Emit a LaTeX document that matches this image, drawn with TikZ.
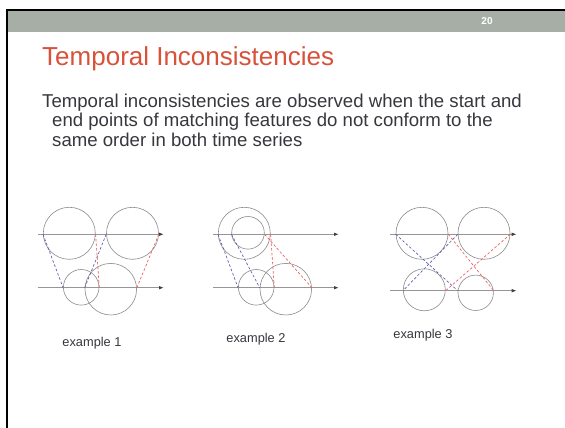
\documentclass[tikz,border=0pt]{standalone}
\usepackage{fontspec}
\setmainfont{Liberation Sans}
\usepackage{xcolor}
\usetikzlibrary{arrows.meta,positioning}

\definecolor{bandgrey}{RGB}{166,174,166}
\definecolor{titlered}{RGB}{216,82,58}
\definecolor{bodytext}{RGB}{55,55,62}
\definecolor{circgrey}{RGB}{140,140,140}
\definecolor{axisgrey}{RGB}{150,150,150}
\definecolor{linkblue}{RGB}{90,90,170}
\definecolor{linkred}{RGB}{235,90,90}

\begin{document}
\begin{tikzpicture}[
        x=1pt, y=-1pt,
        >=latex,
        % circle round a matched feature
        feat/.style={circle, draw=circgrey, line width=0.6pt, minimum size=#1, inner sep=0pt},
        % time series axis
        tline/.style={draw=axisgrey, line width=1.3pt, -{Latex[length=5pt, width=3.6pt, color=black!75]}},
        % matching start / end points
        blink/.style={draw=linkblue, line width=0.65pt, dash pattern=on 2.6pt off 2pt},
        rlink/.style={draw=linkred, line width=0.65pt, dash pattern=on 2.6pt off 2pt},
        lbl/.style={font=\fontsize{12.8}{15}\selectfont, text=bodytext, inner sep=0pt},
        bodyline/.style={anchor=base west, font=\fontsize{18.6}{22}\selectfont, text=bodytext, inner sep=0pt}
    ]

        % ====================
        % slide frame
        % ====================
        \useasboundingbox (0,0) rectangle (565,428);
        \fill[white] (0,0) rectangle (565,428);
        \fill[bandgrey] (8,11) rectangle (565,32);
        \fill[black] (6,9) rectangle (565,11);
        \fill[black] (6,9) rectangle (8,428);

        \node[font=\fontsize{10}{12}\selectfont\bfseries, text=white, inner sep=0pt] (pagenum) at (487,21.5) {20};

        \node[anchor=base west, font=\fontsize{26}{30}\selectfont, text=titlered, inner sep=0pt] (title) at (42,66) {Temporal Inconsistencies};

        \node[bodyline] (body1) at (42,107) {Temporal inconsistencies are observed when the start and};
        \node[bodyline] (body2) at (52,126.5) {end points of matching features do not conform to the};
        \node[bodyline] (body3) at (52,146) {same order in both time series};

        % ====================
        % example 1
        % ====================
        \coordinate (top1s) at (38,234.3);
        \coordinate (top1e) at (164,234.3);
        \coordinate (bot1s) at (38,287.7);
        \coordinate (bot1e) at (164,287.7);

        \node[feat=52pt] (a11) at (69.3,233.3) {};
        \node[feat=52pt] (a12) at (132.5,233.3) {};
        \node[feat=35.6pt] (b11) at (81.2,287.3) {};
        \node[feat=51.6pt] (b12) at (110.8,289.2) {};

        \draw[tline] (top1s) -- (top1e);
        \draw[tline] (bot1s) -- (bot1e);

        \draw[blink] (a11.west |- top1s) -- (b11.west |- bot1s);
        \draw[blink] (a12.west |- top1s) -- (b12.west |- bot1s);
        \draw[rlink] (a11.east |- top1s) -- (b11.east |- bot1s);
        \draw[rlink] (a12.east |- top1s) -- (b12.east |- bot1s);

        \node[lbl] (ex1) at (92,343) {example 1};

        % ====================
        % example 2
        % ====================
        \coordinate (top2s) at (213.3,234.3);
        \coordinate (top2e) at (339,234.3);
        \coordinate (bot2s) at (213.3,287.7);
        \coordinate (bot2e) at (339,287.7);

        \node[feat=52pt] (a21) at (244.3,233.3) {};
        \node[feat=32.6pt] (a22) at (248,232.8) {};
        \node[feat=35.6pt] (b21) at (256.2,287.3) {};
        \node[feat=51.6pt] (b22) at (285.8,289.2) {};

        \draw[tline] (top2s) -- (top2e);
        \draw[tline] (bot2s) -- (bot2e);

        \draw[blink] (a21.west |- top2s) -- (b21.west |- bot2s);
        \draw[blink] (a22.west |- top2s) -- (b22.west |- bot2s);
        \draw[rlink] (a22.east |- top2s) -- (b22.east |- bot2s);
        \draw[rlink] (a21.east |- top2s) -- (b21.east |- bot2s);

        \node[lbl] (ex2) at (256,339) {example 2};

        % ====================
        % example 3
        % ====================
        \coordinate (top3s) at (390,234.3);
        \coordinate (top3e) at (516.7,234.3);
        \coordinate (bot3s) at (390,290.7);
        \coordinate (bot3e) at (516.7,290.7);

        \node[feat=52pt] (a31) at (422,233.3) {};
        \node[feat=52pt] (a32) at (484,233.3) {};
        \node[feat=42pt] (b31) at (424.3,289.8) {};
        \node[feat=35.4pt] (b32) at (475.7,292.8) {};

        \draw[tline] (top3s) -- (top3e);
        \draw[tline] (bot3s) -- (bot3e);

        \draw[blink] (a31.west |- top3s) -- (b32.west |- bot3s);
        \draw[blink] (a32.west |- top3s) -- (b31.west |- bot3s);
        \draw[rlink] (a31.east |- top3s) -- (b32.east |- bot3s);
        \draw[rlink] (a32.east |- top3s) -- (b31.east |- bot3s);

        \node[lbl] (ex3) at (423,335) {example 3};

    \end{tikzpicture}
\end{document}
